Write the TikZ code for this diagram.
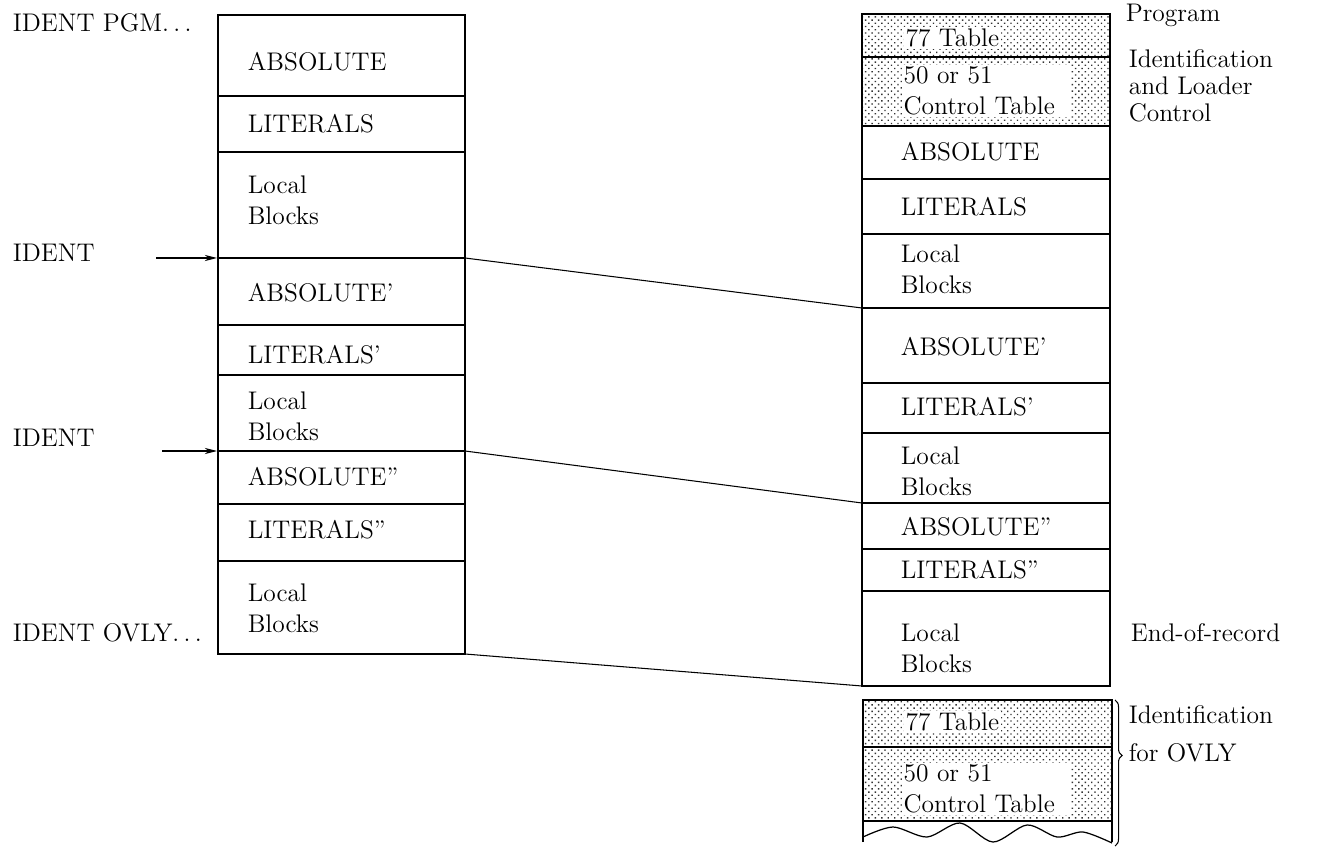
\documentclass[tikz,border=0pt]{standalone}
\usetikzlibrary{positioning,arrows.meta,patterns.meta,decorations.pathreplacing}

\begin{document}
\begin{tikzpicture}[x=0.02cm,y=-0.02cm,font=\fontsize{14.5}{17.5}\selectfont,
  line width=0.9pt,
  lbl/.style={anchor=west,inner sep=0pt,align=left},
  dotted shade/.style={pattern={Dots[distance=2.6pt,radius=0.55pt,angle=45]},pattern color=black!80},
  knock/.style={fill=white,inner sep=1pt}]
\useasboundingbox (0,0) rectangle (1318,847);
% Source deck (left)
\draw (218,15) rectangle (465,654);
\foreach \y in {96,152,258,325,375,451,504,561}
  \draw (218,\y) -- (465,\y);
\node[lbl] (sabs) at (247,62) {ABSOLUTE};
\node[lbl] (slit) at (247,124) {LITERALS};
\node[lbl] (sloc) at (247,200) {Local\\Blocks};
\node[lbl] (sabs1) at (247,293) {ABSOLUTE'};
\node[lbl] (slit1) at (247,355) {LITERALS'};
\node[lbl] (sloc1) at (247,416) {Local\\Blocks};
\node[lbl] (sabs2) at (247,477) {ABSOLUTE''};
\node[lbl] (slit2) at (247,530) {LITERALS''};
\node[lbl] (sloc2) at (247,608) {Local\\Blocks};
% IDENT cards
\node[lbl] (pgm) at (12,23) {IDENT PGM.\,.\,.};
\node[lbl] (id1) at (12,253) {IDENT};
\node[lbl] (id2) at (12,438) {IDENT};
\node[lbl] (ovly) at (12,633) {IDENT OVLY.\,.\,.};
\coordinate (a1s) at (156,258);
\coordinate (a1e) at (217,258);
\coordinate (a2s) at (162,451);
\coordinate (a2e) at (217,451);
\draw[-{Stealth[length=7pt,width=3.5pt]},line width=0.6pt] (a1s) -- (a1e);
\draw[-{Stealth[length=7pt,width=3.5pt]},line width=0.6pt] (a2s) -- (a2e);
% Binary deck (right)
\fill[dotted shade] (862,14) rectangle (1110,126);
\draw (862,14) rectangle (1110,686);
\foreach \y in {57,126,179,234,308,383,433,503,549,591}
  \draw (862,\y) -- (1110,\y);
\node[lbl,knock] (t77) at (903,38) {77 Table};
\node[lbl,knock,text width=3.3cm] (t50) at (901,91) {50 or 51\\Control Table};
\node[lbl] (babs) at (900,152) {ABSOLUTE};
\node[lbl] (blit) at (900,207) {LITERALS};
\node[lbl] (bloc) at (900,269) {Local\\Blocks};
\node[lbl] (babs1) at (900,347) {ABSOLUTE'};
\node[lbl] (blit1) at (900,407) {LITERALS'};
\node[lbl] (bloc1) at (900,471) {Local\\Blocks};
\node[lbl] (babs2) at (900,527) {ABSOLUTE''};
\node[lbl] (blit2) at (900,570) {LITERALS''};
\node[lbl] (bloc2) at (900,648) {Local\\Blocks};
\node[lbl] (prog) at (1125,15) {Program};
\node[lbl,font=\fontsize{14.5}{15.5}\selectfont] (ildr) at (1128,86) {Identification\\and Loader\\Control};
\node[lbl] (eor) at (1130,633) {End-of-record};
% OVLY identification
\fill[dotted shade] (863,700) rectangle (1112,821);
\draw (863,842) -- (863,700) -- (1112,700) -- (1112,842);
\draw (863,747) -- (1112,747);
\draw (863,821) -- (1112,821);
\draw[line width=0.7pt] plot[smooth] coordinates {(863,837) (893,827) (927,837) (960,823) (993,842) (1027,825) (1057,837) (1083,832) (1112,843)};
\node[lbl,knock] (o77) at (903,722) {77 Table};
\node[lbl,knock,text width=3.3cm] (o50) at (901,789) {50 or 51\\Control Table};
\coordinate (bt) at (1115,700);
\coordinate (bb) at (1115,846);
\draw[line width=0.6pt,decorate,decoration={brace,amplitude=4pt,aspect=0.38}] (bt) -- (bb);
\node[lbl] (oid) at (1128,715) {Identification};
\node[lbl] (ofor) at (1128,753) {for OVLY};
% Correspondence lines
\coordinate (l1) at (465,258);
\coordinate (r1) at (862,308);
\coordinate (l2) at (465,451);
\coordinate (r2) at (862,503);
\coordinate (l3) at (465,654);
\coordinate (r3) at (862,686);
\draw[line width=0.6pt] (l1) -- (r1);
\draw[line width=0.6pt] (l2) -- (r2);
\draw[line width=0.6pt] (l3) -- (r3);
\end{tikzpicture}
\end{document}
